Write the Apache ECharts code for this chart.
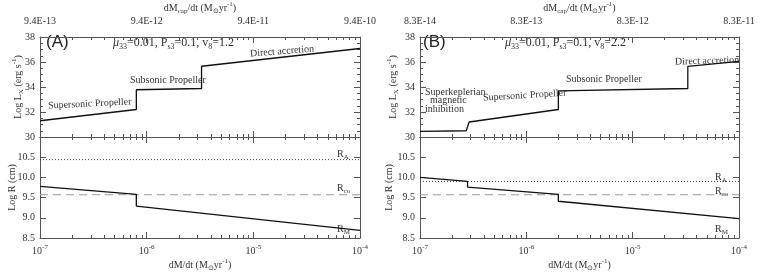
<!DOCTYPE html>
<html><head><meta charset="utf-8">
<script src="https://cdn.jsdelivr.net/npm/echarts@6/dist/echarts.min.js"></script>
<style>html,body{margin:0;padding:0;background:#fff}#c{width:766px;height:273px}</style>
</head><body><div id="c"></div>
<script>
// ---- tick labels ----
const xMajor = [1e-7, 1e-6, 1e-5, 1e-4];
const bottomExp = ['-7', '-6', '-5', '-4'];
const topLabelsA = ['9.4E-13', '9.4E-12', '9.4E-11', '9.4E-10'];
const topLabelsB = ['8.3E-14', '8.3E-13', '8.3E-12', '8.3E-11'];

// ---- panel A data (dM/dt, value) ----
const lxA = [[1e-7, 31.3], [8.0e-7, 32.2], [8.0e-7, 33.78], [3.27e-6, 33.88], [3.27e-6, 35.66], [1e-4, 37.08]];
const rmA = [[1e-7, 9.78], [8.0e-7, 9.58], [8.0e-7, 9.29], [1e-4, 8.69]];
const raA = [[1e-7, 10.44], [1e-4, 10.44]];
const rcoA = [[1e-7, 9.57], [1e-4, 9.57]];

// ---- panel B data ----
const lxB = [[1e-7, 30.45], [2.72e-7, 30.5], [2.9e-7, 31.2], [2.0e-6, 32.2], [2.0e-6, 33.69], [3.3e-5, 33.88], [3.3e-5, 35.65], [1e-4, 36.05]];
const rmB = [[1e-7, 10.0], [2.8e-7, 9.9], [2.8e-7, 9.76], [2.0e-6, 9.58], [2.0e-6, 9.41], [1e-4, 8.98]];
const raB = [[1e-7, 9.90], [1e-4, 9.90]];
const rcoB = [[1e-7, 9.57], [1e-4, 9.57]];

const xMinor = [];
for (let d = -7; d < -4; d++) for (let k = 2; k <= 9; k++) xMinor.push(k * Math.pow(10, d));

const FRAME = '#555';
const TXT = '#333';
const SERIF = 'Liberation Serif';
const rich = {
  b: { fontFamily: SERIF, fontSize: 10, color: TXT, lineHeight: 14 },
  sup: { fontFamily: SERIF, fontSize: 7, color: TXT, lineHeight: 8, verticalAlign: 'top' },
  sub: { fontFamily: SERIF, fontSize: 7, color: TXT, lineHeight: 8, verticalAlign: 'bottom' },
  i: { fontFamily: SERIF, fontSize: 12, fontStyle: 'italic', color: TXT, lineHeight: 15 },
  bb: { fontFamily: SERIF, fontSize: 12, color: TXT, lineHeight: 15 },
  sb: { fontFamily: SERIF, fontSize: 8, color: TXT, lineHeight: 8, verticalAlign: 'bottom' }
};

const grids = [
  { left: 40, width: 320, top: 29, height: 108 },
  { left: 40, width: 320, top: 137, height: 110 },
  { left: 420, width: 319, top: 29, height: 108 },
  { left: 420, width: 319, top: 137, height: 110 }
];

const xAxis = [], yAxis = [];
function addX(grid, pos, label, name, nameGap) {
  const base = { type: 'log', logBase: 10, gridIndex: grid, position: pos, min: 1e-7, max: 1e-4,
    splitLine: { show: false }, minorTick: { show: false }, minorSplitLine: { show: false } };
  const idx = xAxis.length;
  xAxis.push(Object.assign({}, base, {
    axisLine: { show: true, lineStyle: { color: FRAME, width: 1 } },
    axisTick: { show: true, inside: true, length: 6, customValues: xMajor, lineStyle: { color: FRAME } },
    axisLabel: label ? Object.assign({ show: true, customValues: xMajor, margin: 4, rich: rich }, label) : { show: false },
    name: name || '', nameLocation: 'middle', nameGap: nameGap || 0, nameMoveOverlap: false,
    nameTextStyle: { rich: rich, fontFamily: SERIF, fontSize: 10, color: TXT }
  }));
  xAxis.push(Object.assign({}, base, {
    axisLine: { show: false },
    axisTick: { show: true, inside: true, length: 3, customValues: xMinor, lineStyle: { color: FRAME } },
    axisLabel: { show: false }
  }));
  return idx;
}
function addY(grid, pos, min, max, interval, minor, label, name, nameGap) {
  const idx = yAxis.length;
  yAxis.push({
    type: 'value', gridIndex: grid, position: pos, min: min, max: max, interval: interval,
    splitLine: { show: false },
    axisLine: { show: true, lineStyle: { color: FRAME, width: 1 } },
    axisTick: { show: true, inside: true, length: 6, lineStyle: { color: FRAME } },
    minorTick: { show: minor, splitNumber: 4, length: 3, lineStyle: { color: FRAME } },
    axisLabel: label ? Object.assign({ show: true, margin: 5, fontFamily: SERIF, fontSize: 10, color: TXT }, label) : { show: false },
    name: name || '', nameLocation: 'middle', nameGap: nameGap || 0, nameRotate: 90, nameMoveOverlap: false,
    nameTextStyle: { rich: rich, fontFamily: SERIF, fontSize: 10, color: TXT }
  });
  return idx;
}
const expFmt = v => '{b|10}{sup|' + bottomExp[Math.round(Math.log10(v)) + 7] + '}';
const topFmt = arr => v => '{b|' + arr[Math.round(Math.log10(v)) + 7] + '}';
const capName = '{b|dM}{sub|cap}{b|/dt (M}{sub|⊙}{b|yr}{sup|-1}{b|)}';
const dmName = '{b|dM/dt (M}{sub|⊙}{b|yr}{sup|-1}{b|)}';
const lxName = '{b|Log L}{sub|X}{b| (erg s}{sup|-1}{b|)}';
const rName = '{b|Log R (cm)}';

const series = [];
function line(xi, yi, data, style) {
  series.push({ type: 'line', xAxisIndex: xi, yAxisIndex: yi, data: data, symbol: 'none', showSymbol: false,
    animation: false, silent: true, lineStyle: Object.assign({ color: '#111', width: 1.3 }, style || {}) });
}

function panel(gTop, gBot, topLabels, yGapTop, yGapBot, lx, rm, ra, rco) {
  // top grid
  const xb = addX(gTop, 'bottom', null);
  addX(gTop, 'top', { formatter: topFmt(topLabels), margin: 9 }, capName, 22);
  const yl = addY(gTop, 'left', 30, 38, 2, true, {}, lxName, yGapTop);
  addY(gTop, 'right', 30, 38, 2, true, null);
  line(xb, yl, lx);
  // bottom grid
  const xb2 = addX(gBot, 'bottom', { formatter: expFmt, margin: 6 }, dmName, 20);
  addX(gBot, 'top', null);
  const yl2 = addY(gBot, 'left', 8.5, 11.0, 0.5, false, { formatter: v => v.toFixed(1), showMaxLabel: false }, rName, yGapBot);
  addY(gBot, 'right', 8.5, 11.0, 0.5, false, null);
  line(xb2, yl2, ra, { color: '#444', width: 1, type: [1, 2] });
  line(xb2, yl2, rco, { color: '#999', width: 1.2, type: [8, 5] });
  line(xb2, yl2, rm);
}
panel(0, 1, topLabelsA, 15, 21, lxA, rmA, raA, rcoA);
panel(2, 3, topLabelsB, 20, 24, lxB, rmB, raB, rcoB);

function txt(x, y, text, opt) {
  return Object.assign({ type: 'text', x: x, y: y, silent: true,
    style: Object.assign({ text: text, rich: rich, fill: TXT, fontFamily: SERIF, fontSize: 10,
      textAlign: 'left', textVerticalAlign: 'middle' }, (opt && opt.style) || {}) },
    opt && opt.rotation !== undefined ? { rotation: opt.rotation } : {});
}
const sansBig = { style: { fontFamily: 'Liberation Sans', fontSize: 17, fill: '#222' } };
const graphic = [
  txt(46, 42, '(A)', sansBig),
  txt(113, 43, '{i|μ}{sb|33}{bb|=0.01, P}{sb|s3}{bb|=0.1, v}{sb|8}{bb|=1.2}'),
  txt(250, 54, '{b|Direct accretion}', { rotation: 0.08 }),
  txt(130, 80, '{b|Subsonic Propeller}'),
  txt(48, 106, '{b|Supersonic Propeller}', { rotation: 0.05 }),
  txt(337, 154, '{b|R}{sub|A}'),
  txt(337, 188, '{b|R}{sub|co}'),
  txt(337, 229, '{b|R}{sub|M}'),

  txt(423, 42, '(B)', sansBig),
  txt(505, 43, '{i|μ}{sb|33}{bb|=0.01, P}{sb|s3}{bb|=0.1, v}{sb|8}{bb|=2.2}'),
  txt(675, 62, '{b|Direct accretion}', { rotation: 0.03 }),
  txt(566, 79, '{b|Subsonic Propeller}'),
  txt(483, 98, '{b|Supersonic Propeller}', { rotation: 0.06 }),
  txt(425, 92, '{b|Superkeplerian}'),
  txt(430, 100, '{b|magnetic}'),
  txt(425, 109, '{b|inhibition}'),
  txt(715, 177, '{b|R}{sub|A}'),
  txt(715, 191, '{b|R}{sub|co}'),
  txt(715, 229, '{b|R}{sub|M}')
];

const chart = echarts.init(document.getElementById('c'), null, { renderer: 'canvas' });
chart.setOption({
  animation: false,
  backgroundColor: '#fff',
  grid: grids,
  xAxis: xAxis,
  yAxis: yAxis,
  series: series,
  graphic: graphic
});
</script></body></html>
